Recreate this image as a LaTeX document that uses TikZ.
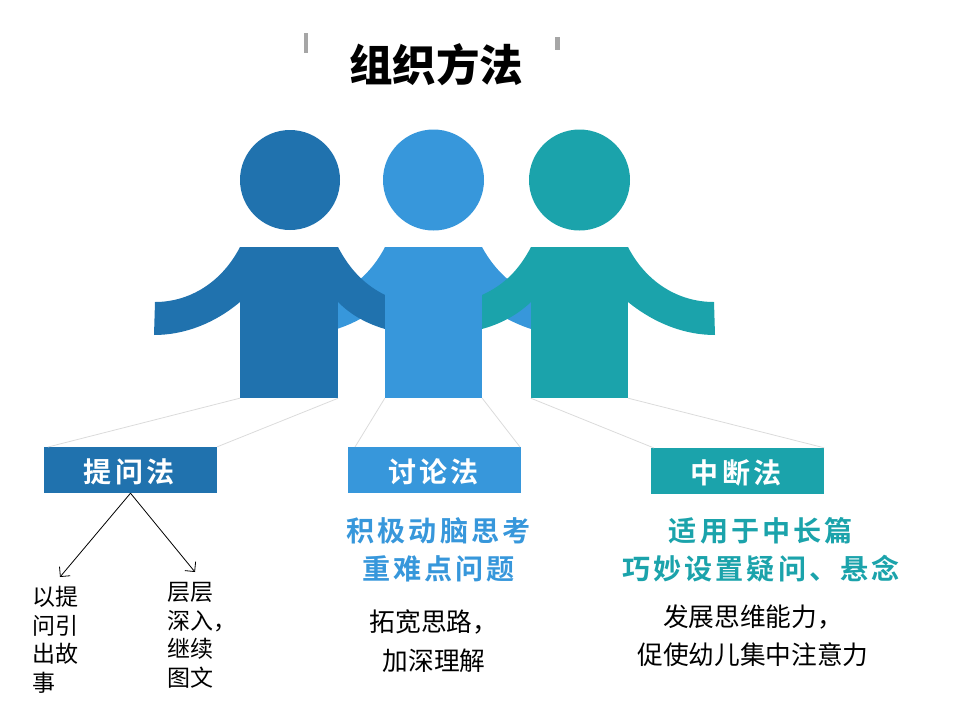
\documentclass[tikz,border=0pt]{standalone}
\usepackage{fontspec}
\setmainfont{Noto Sans CJK SC}
\newfontfamily\headfont[BoldFont={Noto Sans CJK SC Bold},LetterSpace=11]{Noto Sans CJK SC}
\usepackage{tikz}
\usetikzlibrary{positioning,arrows.meta}
\definecolor{darkblue}{HTML}{2072AE}
\definecolor{midblue}{HTML}{3797DB}
\definecolor{tealblue}{HTML}{1BA3AB}
\tikzset{
  body/.style={inner sep=0pt,minimum width=#1,minimum height=151pt},
  head/.style={circle,inner sep=0pt,minimum size=#1},
  tag/.style={inner sep=0pt,minimum width=173pt,minimum height=46pt,text height=26pt,text depth=1pt,text=white,font=\headfont\fontsize{28}{30}\selectfont\bfseries},
  slogan/.style={inner sep=0pt,align=center,font=\headfont\fontsize{28.1}{38}\selectfont\bfseries},
  note/.style={inner sep=0pt,align=center,font=\fontsize{25.7}{38.5}\selectfont},
  small/.style={inner sep=0pt,align=left,anchor=north west,font=\fontsize{23}{28.7}\selectfont},
  rib/.style={draw=black!14,line width=0.8pt},
  pointer/.style={-{Straight Barb[length=7pt,width=14pt]},black,line width=0.8pt}
}
\begin{document}
\begin{tikzpicture}[x=1pt,y=-1pt]
\useasboundingbox (0,0) rectangle (960,720);
% title
\fill[black!35] (304,33) rectangle (308,53);
\fill[black!35] (555,37) rectangle (560,50);
\node[inner sep=0pt,font=\fontsize{43.5}{50}\selectfont\bfseries] (title) at (436,65) {组织方法};
% middle arms go behind the others
\fill[midblue] (385,247) .. controls (367,282) and (335,302) .. (300,302) -- (299,335) .. controls (330,335) and (360,323) .. (385,302) -- cycle;
\fill[midblue] (482,247) .. controls (501,282) and (533,302) .. (568,302) -- (569,335) .. controls (538,335) and (508,323) .. (482,302) -- cycle;
% left person
\node[head=100pt,fill=darkblue] (head1) at (290,180) {};
\node[body=98pt,fill=darkblue] (body1) at (289,322.5) {};
\fill[darkblue] (240,247) .. controls (222,282) and (190,302) .. (155,302) -- (154,335) .. controls (185,335) and (215,323) .. (240,302) -- cycle;
\fill[darkblue] (338,247) .. controls (350,270) and (365,285) .. (385,295) -- (385,329) .. controls (368,324) and (352,316) .. (338,302) -- cycle;
% middle person
\node[head=101pt,fill=midblue] (head2) at (433.5,180) {};
\node[body=97pt,fill=midblue] (body2) at (433.5,322.5) {};
% right person
\node[head=101pt,fill=tealblue] (head3) at (579.5,180) {};
\node[body=97pt,fill=tealblue] (body3) at (579.5,322.5) {};
\fill[tealblue] (628,247) .. controls (646,282) and (678,302) .. (714,302) -- (715,335) .. controls (684,335) and (654,323) .. (628,302) -- cycle;
\fill[tealblue] (531,247) .. controls (519,270) and (504,285) .. (482,295) -- (482,329) .. controls (500,324) and (516,316) .. (531,302) -- cycle;
% tags
\node[tag,fill=darkblue] (tag1) at (130.5,470) {\hspace*{-3pt}提问法};
\node[tag,fill=midblue] (tag2) at (434.5,470) {\hspace*{-2pt}讨论法};
\node[tag,fill=tealblue] (tag3) at (737.5,471) {\hspace*{-3pt}中断法};
\coordinate (rib1a) at (48,447);
\coordinate (rib2a) at (355,447);
\coordinate (rib2b) at (520,447);
\coordinate (rib3a) at (654,448);
\draw[rib] (body1.south west) -- (rib1a);
\draw[rib] (body1.south east) -- (tag1.north east);
\draw[rib] (body2.south west) -- (rib2a);
\draw[rib] (body2.south east) -- (rib2b);
\draw[rib] (body3.south west) -- (rib3a);
\draw[rib] (body3.south east) -- (tag3.north east);
% texts
\node[slogan,text=midblue] (slogan2) at (438.5,550) {积极动脑思考\\重难点问题};
\node[slogan,text=tealblue] (slogan3) at (761,550) {适用于中长篇\\巧妙设置疑问、悬念};
\node[note] (note2) at (434,641) {拓宽思路，\\加深理解};
\node[note] (note3) at (753,635.5) {发展思维能力，\\促使幼儿集中注意力};
\node[small] (left1) at (32,586) {以提\\问引\\出故\\事};
\node[small] (right1) at (167,582) {层层\\深入，\\继续\\图文};
% arrows
\coordinate (end1) at (60,577);
\coordinate (end2) at (195,572);
\draw[pointer] (tag1.south) -- (end1);
\draw[pointer] (tag1.south) -- (end2);
\end{tikzpicture}
\end{document}
